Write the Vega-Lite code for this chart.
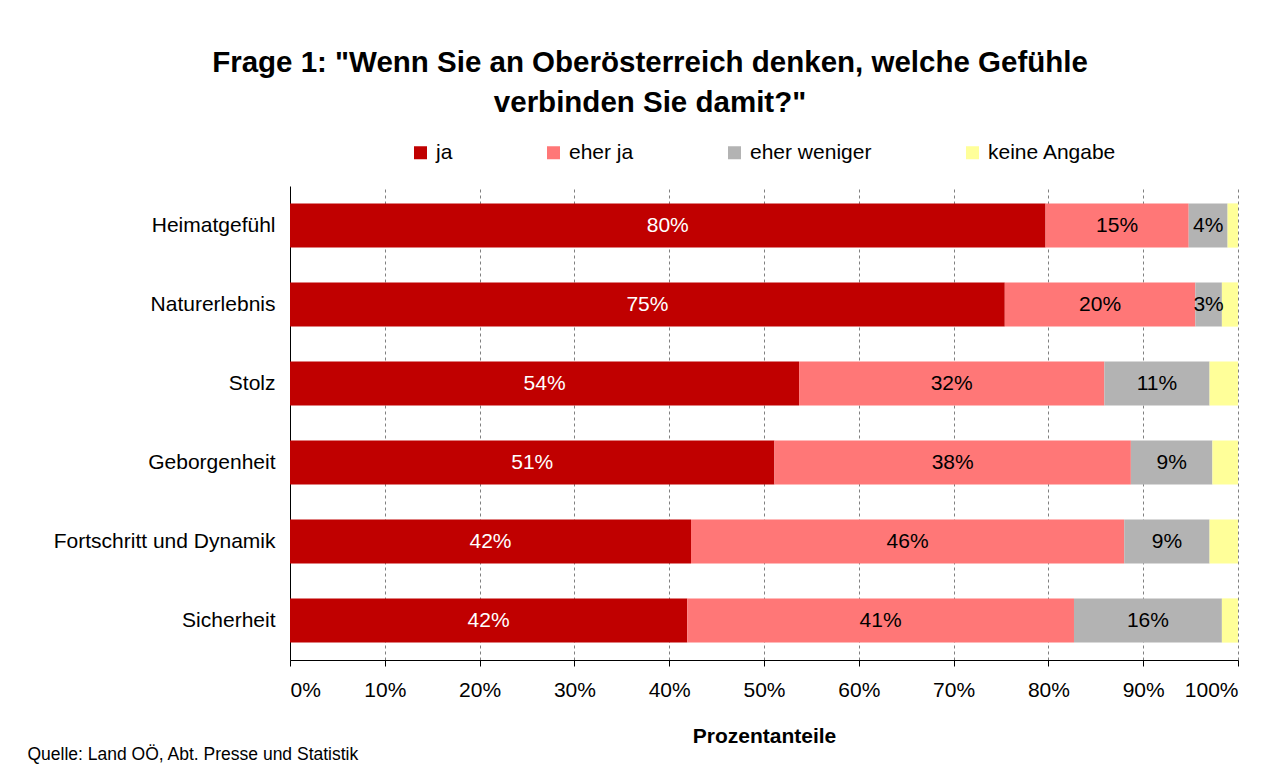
{
  "$schema": "https://vega.github.io/schema/vega-lite/v6.json",
  "width": 948,
  "height": 474,
  "autosize": {"type": "none"},
  "padding": {"left": 290, "top": 186, "right": 38, "bottom": 116},
  "background": "white",
  "config": {
    "font": "Liberation Sans",
    "view": {"stroke": null},
    "axis": {"labelColor": "black", "titleColor": "black", "domainColor": "black"}
  },
  "title": {
    "text": ["Frage 1: \"Wenn Sie an Oberösterreich denken, welche Gefühle", "verbinden Sie damit?\""],
    "fontSize": 29.5,
    "font": "Liberation Sans",
    "fontWeight": "bold",
    "lineHeight": 40,
    "anchor": "middle",
    "frame": "group",
    "dx": -114,
    "dy": -20,
    "color": "black"
  },
  "data": {
    "values": [
      {"item": "Heimatgefühl", "cat": "ja", "k": 1, "v": 0.797},
      {"item": "Heimatgefühl", "cat": "eher ja", "k": 2, "v": 0.151},
      {"item": "Heimatgefühl", "cat": "eher weniger", "k": 3, "v": 0.041},
      {"item": "Heimatgefühl", "cat": "keine Angabe", "k": 4, "v": 0.011},
      {"item": "Naturerlebnis", "cat": "ja", "k": 1, "v": 0.754},
      {"item": "Naturerlebnis", "cat": "eher ja", "k": 2, "v": 0.201},
      {"item": "Naturerlebnis", "cat": "eher weniger", "k": 3, "v": 0.028},
      {"item": "Naturerlebnis", "cat": "keine Angabe", "k": 4, "v": 0.017},
      {"item": "Stolz", "cat": "ja", "k": 1, "v": 0.537},
      {"item": "Stolz", "cat": "eher ja", "k": 2, "v": 0.322},
      {"item": "Stolz", "cat": "eher weniger", "k": 3, "v": 0.111},
      {"item": "Stolz", "cat": "keine Angabe", "k": 4, "v": 0.030},
      {"item": "Geborgenheit", "cat": "ja", "k": 1, "v": 0.511},
      {"item": "Geborgenheit", "cat": "eher ja", "k": 2, "v": 0.376},
      {"item": "Geborgenheit", "cat": "eher weniger", "k": 3, "v": 0.086},
      {"item": "Geborgenheit", "cat": "keine Angabe", "k": 4, "v": 0.027},
      {"item": "Fortschritt und Dynamik", "cat": "ja", "k": 1, "v": 0.423},
      {"item": "Fortschritt und Dynamik", "cat": "eher ja", "k": 2, "v": 0.457},
      {"item": "Fortschritt und Dynamik", "cat": "eher weniger", "k": 3, "v": 0.090},
      {"item": "Fortschritt und Dynamik", "cat": "keine Angabe", "k": 4, "v": 0.030},
      {"item": "Sicherheit", "cat": "ja", "k": 1, "v": 0.419},
      {"item": "Sicherheit", "cat": "eher ja", "k": 2, "v": 0.408},
      {"item": "Sicherheit", "cat": "eher weniger", "k": 3, "v": 0.156},
      {"item": "Sicherheit", "cat": "keine Angabe", "k": 4, "v": 0.017}
    ]
  },
  "encoding": {
    "y": {
      "field": "item",
      "type": "nominal",
      "sort": ["Heimatgefühl", "Naturerlebnis", "Stolz", "Geborgenheit", "Fortschritt und Dynamik", "Sicherheit"],
      "scale": {"paddingInner": 0.44, "paddingOuter": 0.22},
      "axis": {
        "title": "Quelle: Land OÖ, Abt. Presse und Statistik",
        "titleAngle": 0,
        "titleX": -263,
        "titleY": 573,
        "titleAlign": "left",
        "titleBaseline": "alphabetic",
        "titleFontSize": 17.5,
        "titleFontWeight": "normal",
        "ticks": false,
        "labelFontSize": 21,
        "labelLimit": 300,
        "labelPadding": 15,
        "domainColor": "black"
      }
    }
  },
  "layer": [
    {
      "mark": {"type": "bar"},
      "encoding": {
        "x": {
          "field": "v",
          "type": "quantitative",
          "stack": "zero",
          "scale": {"domain": [0, 1], "nice": false},
          "axis": {
            "format": ".0%",
            "values": [0, 0.1, 0.2, 0.3, 0.4, 0.5, 0.6, 0.7, 0.8, 0.9, 1],
            "title": "Prozentanteile",
            "titleFontSize": 21,
            "titleFontWeight": "bold",
            "titlePadding": 25,
            "labelFontSize": 21,
            "labelPadding": 13,
            "tickSize": 6,
            "tickColor": "black",
            "grid": true,
            "gridDash": [3, 3],
            "gridColor": "#808080",
            "domainColor": "black"
          }
        },
        "order": {"field": "k", "type": "quantitative"},
        "color": {
          "field": "cat",
          "type": "nominal",
          "scale": {
            "domain": ["ja", "eher ja", "eher weniger", "keine Angabe"],
            "range": ["#C00000", "#FF7777", "#B3B3B3", "#FFFF99"]
          },
          "legend": {
            "title": null,
            "orient": "none",
            "direction": "horizontal",
            "legendX": 120,
            "legendY": -44,
            "symbolType": "square",
            "symbolSize": 169,
            "symbolStrokeWidth": 0,
            "symbolOpacity": 1,
            "labelFontSize": 21,
            "labelColor": "black",
            "labelOffset": 5,
            "columnPadding": 90
          }
        }
      }
    },
    {
      "transform": [{"filter": "datum.cat !== 'keine Angabe'"}],
      "mark": {"type": "text", "fontSize": 21, "font": "Liberation Sans", "baseline": "middle", "align": "center"},
      "encoding": {
        "x": {"field": "v", "type": "quantitative", "stack": "zero", "bandPosition": 0.5},
        "order": {"field": "k", "type": "quantitative"},
        "detail": {"field": "cat"},
        "text": {"field": "v", "type": "quantitative", "format": ".0%"},
        "color": {
          "condition": {"test": "datum.cat === 'ja'", "value": "white"},
          "value": "black"
        }
      }
    }
  ]
}
